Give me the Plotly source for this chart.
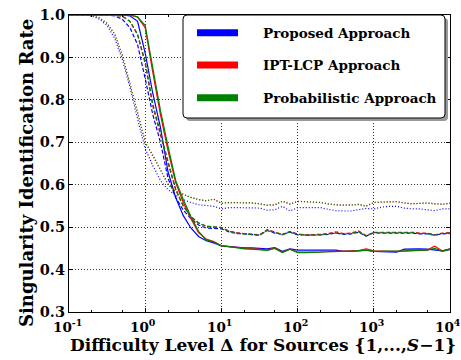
import math
import plotly.graph_objects as go

# x positions (difficulty level Δ), log spaced 10 per decade
x_vals = [0.1, 0.1259, 0.1585, 0.1995, 0.2512, 0.3162, 0.3981, 0.5012, 0.631, 0.7943,
          1.0, 1.259, 1.585, 1.995, 2.512, 3.162, 3.981, 5.012, 6.31, 7.943,
          10, 12.59, 15.85, 19.95, 25.12, 31.62, 39.81, 50.12, 63.1, 79.43,
          100, 125.9, 158.5, 199.5, 251.2, 316.2, 398.1, 501.2, 631, 794.3,
          1000, 1259, 1585, 1995, 2512, 3162, 3981, 5012, 6310, 7943, 10000]

blue_solid = [1.0]*8 + [0.998, 0.985, 0.91, 0.815, 0.735, 0.63, 0.57, 0.527, 0.498, 0.478, 0.468, 0.463, 0.456,
              0.454, 0.452, 0.451, 0.451, 0.450, 0.449, 0.452, 0.443, 0.449, 0.446,
              0.446, 0.446, 0.445, 0.445, 0.446, 0.443, 0.443, 0.444, 0.446, 0.443,
              0.442, 0.441, 0.441, 0.448, 0.449, 0.449, 0.448, 0.446, 0.444, 0.449]
red_solid = [1.0]*9 + [0.995, 0.97, 0.865, 0.765, 0.68, 0.605, 0.558, 0.52, 0.487, 0.472, 0.466, 0.456,
             0.454, 0.452, 0.450, 0.449, 0.448, 0.446, 0.451, 0.441, 0.448, 0.441,
             0.441, 0.441, 0.441, 0.442, 0.443, 0.443, 0.444, 0.445, 0.449, 0.444,
             0.443, 0.443, 0.443, 0.444, 0.445, 0.445, 0.446, 0.455, 0.444, 0.448]
green_solid = [1.0]*9 + [0.996, 0.975, 0.875, 0.775, 0.69, 0.61, 0.565, 0.525, 0.49, 0.47, 0.465, 0.456,
               0.454, 0.451, 0.449, 0.448, 0.447, 0.445, 0.450, 0.440, 0.448, 0.440,
               0.440, 0.440, 0.441, 0.442, 0.443, 0.443, 0.443, 0.444, 0.446, 0.443,
               0.443, 0.443, 0.443, 0.444, 0.445, 0.445, 0.446, 0.450, 0.443, 0.447]

blue_dashed = [1.0]*6 + [0.998, 0.99, 0.97, 0.93, 0.85, 0.765, 0.70, 0.615, 0.57, 0.54, 0.52, 0.505, 0.498, 0.497, 0.496,
               0.489, 0.485, 0.484, 0.483, 0.481, 0.492, 0.486, 0.483, 0.488, 0.482,
               0.481, 0.481, 0.482, 0.483, 0.486, 0.483, 0.484, 0.488, 0.479, 0.487,
               0.486, 0.486, 0.485, 0.486, 0.486, 0.484, 0.484, 0.481, 0.484, 0.485]
red_dashed = [1.0]*7 + [0.997, 0.985, 0.953, 0.885, 0.785, 0.715, 0.65, 0.588, 0.549, 0.525, 0.51, 0.502, 0.501, 0.499,
              0.491, 0.487, 0.485, 0.484, 0.482, 0.494, 0.488, 0.483, 0.490, 0.484,
              0.482, 0.482, 0.483, 0.485, 0.489, 0.485, 0.486, 0.491, 0.480, 0.488,
              0.488, 0.487, 0.487, 0.488, 0.488, 0.486, 0.486, 0.482, 0.486, 0.487]
green_dashed = [1.0]*7 + [0.997, 0.985, 0.955, 0.89, 0.79, 0.72, 0.655, 0.59, 0.55, 0.525, 0.51, 0.502, 0.50, 0.499,
                0.490, 0.486, 0.484, 0.483, 0.481, 0.493, 0.487, 0.482, 0.489, 0.483,
                0.481, 0.481, 0.482, 0.484, 0.486, 0.484, 0.485, 0.489, 0.479, 0.487,
                0.487, 0.486, 0.486, 0.487, 0.487, 0.485, 0.485, 0.481, 0.485, 0.486]

blue_dotted = [1.0]*3 + [0.998, 0.99, 0.975, 0.945, 0.895, 0.83, 0.755, 0.685, 0.645, 0.61, 0.588, 0.575, 0.565,
               0.558, 0.553, 0.551, 0.549, 0.543,
               0.546, 0.546, 0.546, 0.546, 0.545, 0.540, 0.541, 0.549, 0.538, 0.546,
               0.546, 0.546, 0.546, 0.542, 0.539, 0.538, 0.538, 0.541, 0.544, 0.543,
               0.547, 0.549, 0.549, 0.545, 0.543, 0.543, 0.541, 0.539, 0.543, 0.543]
red_dotted = [1.0]*3 + [0.998, 0.993, 0.98, 0.955, 0.905, 0.84, 0.77, 0.70, 0.668, 0.635, 0.60, 0.584, 0.577,
              0.57, 0.565, 0.562, 0.566, 0.556,
              0.558, 0.558, 0.558, 0.557, 0.555, 0.552, 0.553, 0.561, 0.555, 0.561,
              0.560, 0.559, 0.558, 0.555, 0.553, 0.552, 0.552, 0.554, 0.550, 0.558,
              0.559, 0.560, 0.560, 0.557, 0.555, 0.556, 0.557, 0.555, 0.554, 0.556]
green_dotted = [1.0]*3 + [0.998, 0.993, 0.98, 0.955, 0.905, 0.84, 0.77, 0.70, 0.67, 0.636, 0.602, 0.585, 0.577,
                0.57, 0.565, 0.562, 0.566, 0.556,
                0.558, 0.558, 0.557, 0.557, 0.555, 0.552, 0.552, 0.561, 0.554, 0.560,
                0.560, 0.559, 0.558, 0.555, 0.552, 0.552, 0.552, 0.553, 0.549, 0.558,
                0.559, 0.560, 0.560, 0.557, 0.555, 0.556, 0.557, 0.555, 0.554, 0.556]

method_names = ["Proposed Approach", "IPT-LCP Approach", "Probabilistic Approach"]
method_colors = ["#0000ff", "#ff0000", "#008000"]

x_tickvals = [0.1, 1, 10, 100, 1000, 10000]
x_ticktext = ["10<sup>-1</sup>", "10<sup>0</sup>", "10<sup>1</sup>", "10<sup>2</sup>", "10<sup>3</sup>", "10<sup>4</sup>"]
y_tickvals = [0.3, 0.4, 0.5, 0.6, 0.7, 0.8, 0.9, 1.0]
y_ticktext = ["0.3", "0.4", "0.5", "0.6", "0.7", "0.8", "0.9", "1.0"]
x_title = "Difficulty Level Δ for Sources {1,...,<i>S</i>−1}"
y_title = "Singularity Identification Rate"

series = [
    (blue_solid, 0, "solid"), (blue_dashed, 0, "4px,2px"), (blue_dotted, 0, "1px,2px"),
    (red_solid, 1, "solid"), (red_dashed, 1, "4px,2px"), (red_dotted, 1, "1px,2px"),
    (green_solid, 2, "solid"), (green_dashed, 2, "4px,2px"), (green_dotted, 2, "1px,2px"),
]

FONT = "DejaVu Serif"
fig = go.Figure()
for ys, m, dash in series:
    fig.add_trace(go.Scatter(x=x_vals, y=ys, mode="lines", showlegend=False,
                             name=method_names[m],
                             line=dict(color=method_colors[m], width=1.2, dash=dash)))

axis_common = dict(showline=True, linecolor="black", linewidth=1.2, mirror="ticks",
                   ticks="inside", ticklen=4, tickcolor="black", automargin=False,
                   showgrid=True, gridcolor="#333", griddash="1px,2px", gridwidth=1,
                   zeroline=False, tickfont=dict(family=FONT, size=14.5, color="black"))

fig.update_xaxes(type="log", range=[-1, 4], tickvals=x_tickvals, showticklabels=False,
                 minor=dict(ticks="inside", ticklen=2, tickcolor="black", showgrid=False),
                 **axis_common)
fig.update_yaxes(range=[0.3, 1.0], tickvals=y_tickvals,
                 ticktext=["<b>%s</b>" % t for t in y_ticktext],
                 **axis_common)

# pixel helpers for the plot box (left 69, top 15, width 381, height 297)
W, H, L, T = 381.0, 297.0, 69.0, 15.0
def px(xp):
    return (xp - L) / W
def py(yp):
    return (T + H - yp) / H

def rounded(x0, y0, x1, y1, r=4):
    ax0, ax1 = px(x0), px(x1)
    ay0, ay1 = py(y0), py(y1)
    rx, ry = r / W, r / H
    return (f"M{ax0+rx},{ay0} L{ax1-rx},{ay0} Q{ax1},{ay0} {ax1},{ay0-ry} "
            f"L{ax1},{ay1+ry} Q{ax1},{ay1} {ax1-rx},{ay1} L{ax0+rx},{ay1} "
            f"Q{ax0},{ay1} {ax0},{ay1+ry} L{ax0},{ay0-ry} Q{ax0},{ay0} {ax0+rx},{ay0} Z")

annotations = []
# x tick labels
for v, t in zip(x_tickvals, x_ticktext):
    annotations.append(dict(xref="x", yref="paper", x=math.log10(v), y=0,
                            xanchor="center", yanchor="top", yshift=-3, xshift=-2,
                            showarrow=False, text="<b>%s</b>" % t,
                            font=dict(family=FONT, size=13.5, color="black")))
# axis titles
annotations.append(dict(xref="paper", yref="paper", x=px(263), y=py(345),
                        xanchor="center", yanchor="middle", showarrow=False,
                        text="<b>%s</b>" % x_title,
                        font=dict(family=FONT, size=17, color="black")))
annotations.append(dict(xref="paper", yref="paper", x=px(26), y=py(173),
                        xanchor="center", yanchor="middle", showarrow=False, textangle=-90,
                        text="<b>%s</b>" % y_title,
                        font=dict(family=FONT, size=18, color="black")))

# legend drawn as a framed box with rounded corners and a shadow
shapes = [
    dict(type="path", xref="paper", yref="paper", path=rounded(186, 18, 448, 121),
         fillcolor="#9a9a9a", line=dict(width=0), layer="above"),
    dict(type="path", xref="paper", yref="paper", path=rounded(183, 15, 445, 118),
         fillcolor="white", line=dict(color="black", width=1), layer="above"),
]
legend_rows = [32.7, 65.0, 97.7]
for m in range(3):
    shapes.append(dict(type="line", xref="paper", yref="paper",
                       x0=px(197), x1=px(238), y0=py(legend_rows[m]), y1=py(legend_rows[m]),
                       line=dict(color=method_colors[m], width=7), layer="above"))
    annotations.append(dict(xref="paper", yref="paper", x=px(261), y=py(legend_rows[m]),
                            xanchor="left", yanchor="middle", showarrow=False,
                            text="<b>" + method_names[m] + "</b>",
                            font=dict(family=FONT, size=13.5, color="black")))

fig.update_layout(
    width=461, height=360,
    margin=dict(l=69, r=11, t=15, b=48),
    plot_bgcolor="white", paper_bgcolor="white",
    font=dict(family=FONT, color="black"),
    showlegend=False, hovermode=False,
    shapes=shapes, annotations=annotations,
)

fig.write_html("out.html", post_script="document.body.style.margin='0px';",
               config={"displayModeBar": False})
